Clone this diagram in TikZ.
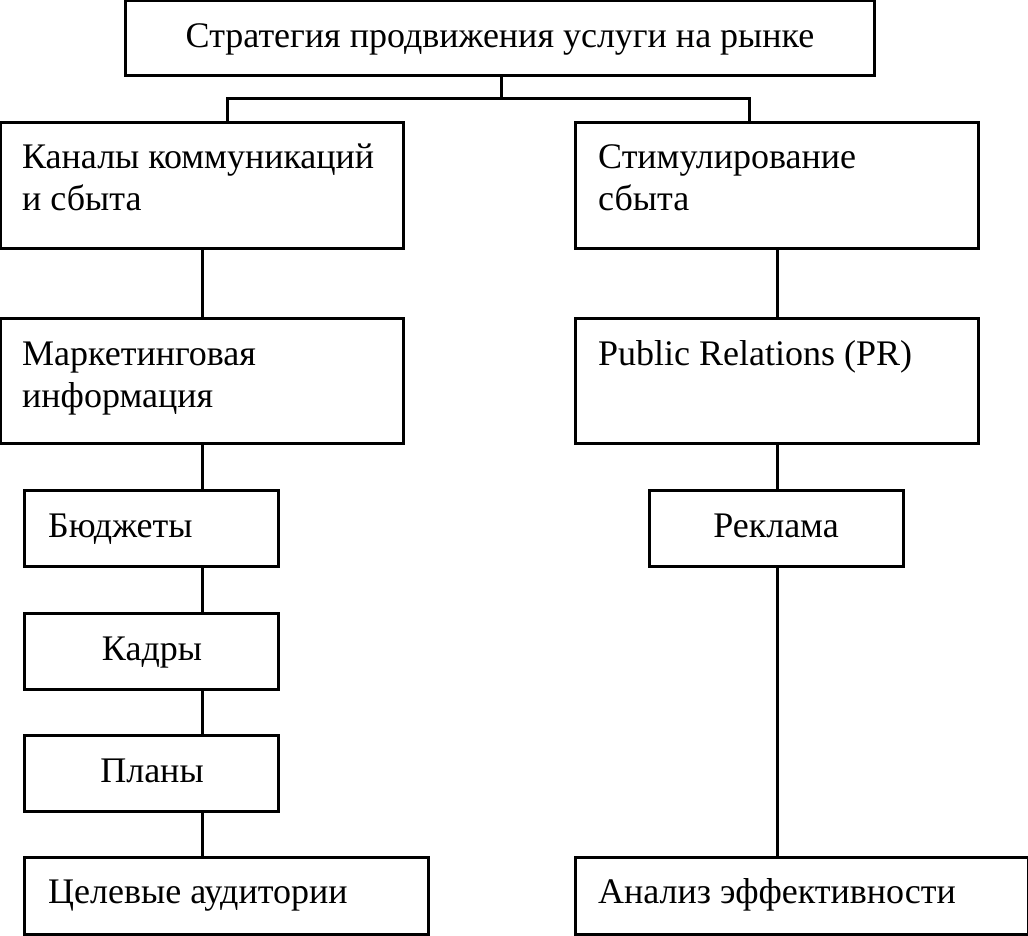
\documentclass[tikz,border=0pt]{standalone}
\usepackage{fontspec}
\setmainfont{Liberation Serif}
\begin{document}
\begin{tikzpicture}[x=1pt,y=-1pt,
  box/.style={draw=black, line width=3pt, rectangle, inner sep=0pt},
  txt/.style={inner sep=0pt, font=\fontsize{36}{42}\selectfont, align=left},
  link/.style={draw=black, line width=3pt}]
\useasboundingbox (0,0) rectangle (1028,935);
% boxes: corners given by edge centres
\newcommand{\mkbox}[5]{\node[box, minimum width={#4-#2+3}, minimum height={#5-#3+3}] (#1) at ({(#2+#4)/2},{(#3+#5)/2}) {};}
\mkbox{top}{127}{2}{873}{74}
\mkbox{L1}{2}{124}{402}{247}
\mkbox{R1}{577}{124}{977}{247}
\mkbox{L2}{2}{320}{402}{442}
\mkbox{R2}{577}{320}{977}{442}
\mkbox{L3}{26}{492}{277}{565}
\mkbox{R3}{651}{492}{902}{565}
\mkbox{L4}{26}{615}{277}{688}
\mkbox{L5}{26}{737}{277}{810}
\mkbox{L6}{26}{859}{427}{933}
\mkbox{R6}{577}{859}{1027}{933}
% texts
\node[txt, anchor=base] (tTop) at (500,47) {Стратегия продвижения услуги на рынке};
\node[txt, anchor=base west] (tL1a) at (22,168) {Каналы коммуникаций};
\node[txt, anchor=base west] (tL1b) at (22,210) {и сбыта};
\node[txt, anchor=base west] (tR1a) at (598,168) {Стимулирование};
\node[txt, anchor=base west] (tR1b) at (598,210) {сбыта};
\node[txt, anchor=base west] (tL2a) at (22,365) {Маркетинговая};
\node[txt, anchor=base west] (tL2b) at (22,407) {информация};
\node[txt, anchor=base west] (tR2) at (598,365) {Public Relations (PR)};
\node[txt, anchor=base west] (tL3) at (48,537) {Бюджеты};
\node[txt, anchor=base] (tR3) at (776,537) {Реклама};
\node[txt, anchor=base] (tL4) at (152,660) {Кадры};
\node[txt, anchor=base] (tL5) at (152,782) {Планы};
\node[txt, anchor=base west] (tL6) at (48,903) {Целевые аудитории};
\node[txt, anchor=base west] (tR6) at (598,903) {Анализ эффективности};
% connectors
\coordinate (jl) at (227,98);
\coordinate (jr) at (749,98);
\coordinate (jm) at (501,98);
\draw[link] (top.south -| jm) -- (jm);
\draw[link] (jl |- L1.north) -- (jl) -- (jr) -- (jr |- R1.north);
\draw[link] (L1.south) -- (L1.south |- L2.north);
\draw[link] (L2.south) -- (L2.south |- L3.north);
\draw[link] (L2.south |- L3.south) -- (L2.south |- L4.north);
\draw[link] (L2.south |- L4.south) -- (L2.south |- L5.north);
\draw[link] (L2.south |- L5.south) -- (L2.south |- L6.north);
\draw[link] (R1.south) -- (R1.south |- R2.north);
\draw[link] (R2.south) -- (R2.south |- R3.north);
\draw[link] (R2.south |- R3.south) -- (R2.south |- R6.north);
\end{tikzpicture}
\end{document}
